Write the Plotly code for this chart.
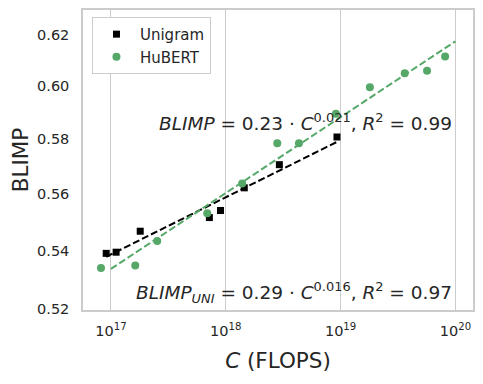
import numpy as np
import plotly.graph_objects as go

# Unigram モデル (計算量 C, BLIMP)
uni_flops = [9.1e16, 1.11e17, 1.80e17, 7.2e17, 9.0e17, 1.45e18, 2.93e18, 9.3e18]
uni_blimp = [0.5390, 0.5394, 0.5467, 0.5515, 0.5540, 0.5621, 0.5705, 0.5807]

# HuBERT モデル
hub_flops = [8.2e16, 1.63e17, 2.53e17, 6.9e17, 1.39e18, 2.81e18, 4.34e18,
             9.1e18, 1.80e19, 3.62e19, 5.66e19, 8.13e19]
hub_blimp = [0.5340, 0.5348, 0.5433, 0.5530, 0.5637, 0.5784, 0.5784,
             0.5894, 0.5995, 0.6049, 0.6059, 0.6114]

# フィット線の描画範囲
uni_fit_range = [min(uni_flops), max(uni_flops)]
hub_fit_range = [1e17, 1e20]

x_tickvals = [1e17, 1e18, 1e19, 1e20]
x_ticktext = ['10<sup>17</sup>', '10<sup>18</sup>', '10<sup>19</sup>', '10<sup>20</sup>']
y_tickvals = [0.52, 0.54, 0.56, 0.58, 0.60, 0.62]

GREEN = '#55a868'
FONT = 'DejaVu Sans'
TXT = '#262626'

# ページの body には 8px の余白があるので、その分だけ図を小さくする
PAGE_PAD = 8


def power_fit(xs, ys, rng):
    # log-log の一次回帰
    b, a = np.polyfit(np.log(xs), np.log(ys), 1)
    xx = np.logspace(np.log10(rng[0]), np.log10(rng[1]), 50)
    return xx, np.exp(a) * xx ** b


fig = go.Figure()

ux, uy = power_fit(uni_flops, uni_blimp, uni_fit_range)
hx, hy = power_fit(hub_flops, hub_blimp, hub_fit_range)

fig.add_trace(go.Scatter(x=ux, y=uy, mode='lines', showlegend=False,
                         line=dict(color='black', width=2, dash='7px,3px')))
fig.add_trace(go.Scatter(x=hx, y=hy, mode='lines', showlegend=False,
                         line=dict(color=GREEN, width=2, dash='7px,3px')))

fig.add_trace(go.Scatter(x=uni_flops, y=uni_blimp, mode='markers', name='Unigram',
                         marker=dict(symbol='square', size=7, color='black')))
fig.add_trace(go.Scatter(x=hub_flops, y=hub_blimp, mode='markers', name='HuBERT',
                         marker=dict(symbol='circle', size=8, color=GREEN)))

fig.add_annotation(
    text='<i>BLIMP</i> = 0.23 · <i>C</i><sup>0.021</sup>, <i>R</i><sup>2</sup> = 0.99',
    xref='paper', yref='paper', x=0.951, y=0.626, xanchor='right', yanchor='middle',
    showarrow=False, font=dict(family=FONT, size=18.5, color=TXT))
fig.add_annotation(
    text='<i>BLIMP</i><sub><i>UNI</i></sub> = 0.29 · <i>C</i><sup>0.016</sup>, <i>R</i><sup>2</sup> = 0.97',
    xref='paper', yref='paper', x=0.951, y=0.06, xanchor='right', yanchor='middle',
    showarrow=False, font=dict(family=FONT, size=18.5, color=TXT))

fig.update_layout(
    width=483 - PAGE_PAD, height=384 - PAGE_PAD,
    margin=dict(l=83 - PAGE_PAD, r=10, t=10 - PAGE_PAD, b=74),
    paper_bgcolor='white', plot_bgcolor='white',
    font=dict(family=FONT, color=TXT, size=14),
    legend=dict(x=0.023, y=0.977, xanchor='left', yanchor='top',
                bordercolor='#cccccc', borderwidth=1, bgcolor='white',
                itemwidth=37, font=dict(size=15)),
    xaxis=dict(type='log', range=[16.757, 20.153], automargin=False,
               tickvals=x_tickvals, ticktext=x_ticktext, ticks='',
               ticklabelstandoff=7,
               showgrid=True, gridcolor='#cccccc', gridwidth=1,
               showline=True, linecolor='#cccccc', linewidth=1.5, mirror=True,
               zeroline=False, tickfont=dict(size=14.5),
               title=dict(text='<i>C</i> (FLOPS)', font=dict(size=21.5), standoff=15)),
    yaxis=dict(type='log', range=[np.log10(0.5198), np.log10(0.6299)], automargin=False,
               tickvals=y_tickvals, ticktext=['%.2f' % v for v in y_tickvals], ticks='',
               ticklabelstandoff=9,
               showgrid=False,
               showline=True, linecolor='#cccccc', linewidth=1.5, mirror=True,
               zeroline=False, tickfont=dict(size=14.5),
               title=dict(text='BLIMP', font=dict(size=21.5), standoff=10)),
)

fig.write_html('out.html')
